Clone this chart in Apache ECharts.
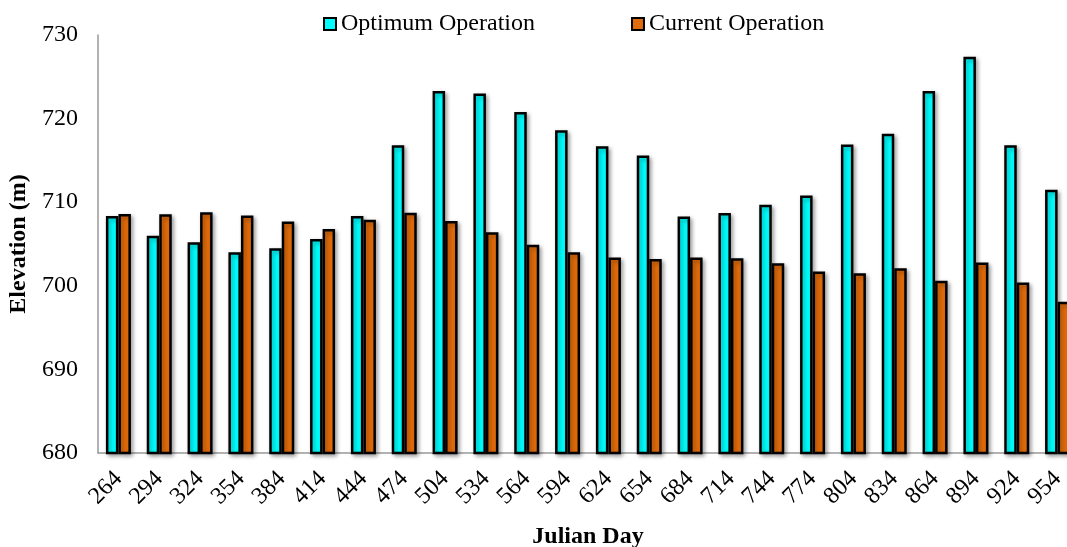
<!DOCTYPE html>
<html>
<head>
<meta charset="utf-8">
<script src="https://cdn.jsdelivr.net/npm/echarts@6/dist/echarts.min.js"></script>
<style>
  html, body { margin: 0; padding: 0; background: #fff; }
  #main { width: 1067px; height: 547px; }
</style>
</head>
<body>
<div id="main"></div>
<script>
const days = ["264", "294", "324", "354", "384", "414", "444", "474", "504", "534", "564", "594",
  "624", "654", "684", "714", "744", "774", "804", "834", "864", "894", "924", "954"];
const optimum = [708.35, 706.0, 705.2, 704.0, 704.5, 705.6, 708.35, 716.8, 723.3, 723.0, 720.8, 718.6,
  716.7, 715.6, 708.3, 708.7, 709.7, 710.8, 716.9, 718.2, 723.3, 727.4, 716.8, 711.5];
const current = [708.6, 708.55, 708.8, 708.4, 707.7, 706.8, 707.9, 708.75, 707.75, 706.4, 704.9, 704.0,
  703.4, 703.2, 703.4, 703.3, 702.7, 701.7, 701.5, 702.1, 700.6, 702.8, 700.4, 698.1];
const seriesNames = ["Optimum Operation", "Current Operation"];
const colors = ["#00FFFF", "#E36C0A"];

const font = "Liberation Serif, Times New Roman, serif";

const barStyle = (color) => ({
  color,
  borderColor: "#000",
  borderWidth: 2.5,
  shadowColor: "rgba(0,0,0,0.35)",
  shadowBlur: 4,
  shadowOffsetX: 2,
  shadowOffsetY: 2,
});

const option = {
  animation: false,
  textStyle: { fontFamily: font },
  legend: {
    left: 318,
    top: 7,
    itemWidth: 12,
    itemHeight: 12,
    itemGap: 96,
    icon: "rect",
    data: seriesNames,
    textStyle: { fontFamily: font, fontSize: 24, color: "#000" },
    itemStyle: { borderColor: "#000", borderWidth: 2 },
  },
  grid: { left: 98, top: 35, width: 980, height: 418, outerBoundsMode: "none", containLabel: false },
  xAxis: {
    type: "category",
    data: days,
    name: "Julian Day",
    nameLocation: "middle",
    nameGap: 72,
    nameTextStyle: { fontFamily: font, fontSize: 24, fontWeight: "bold", color: "#000" },
    axisLine: { lineStyle: { color: "#999", width: 1.5 } },
    axisTick: { show: false },
    axisLabel: { interval: 0, rotate: 45, fontFamily: font, fontSize: 24, color: "#000", margin: 22 },
  },
  yAxis: {
    type: "value",
    min: 680,
    max: 730,
    interval: 10,
    name: "Elevation (m)",
    nameLocation: "middle",
    nameGap: 64,
    nameTextStyle: { fontFamily: font, fontSize: 24, fontWeight: "bold", color: "#000" },
    axisLine: { show: true, lineStyle: { color: "#999", width: 1.5 } },
    axisTick: { show: false },
    splitLine: { show: false },
    axisLabel: { fontFamily: font, fontSize: 24, color: "#000", margin: 20 },
  },
  series: [
    {
      name: seriesNames[0],
      type: "bar",
      data: optimum,
      barWidth: 12.5,
      barGap: "0%",
      itemStyle: barStyle(colors[0]),
    },
    {
      name: seriesNames[1],
      type: "bar",
      data: current,
      barWidth: 12.5,
      itemStyle: barStyle(colors[1]),
    },
  ],
};

const myChart = echarts.init(document.getElementById("main"));
myChart.setOption(option);
</script>
</body>
</html>
